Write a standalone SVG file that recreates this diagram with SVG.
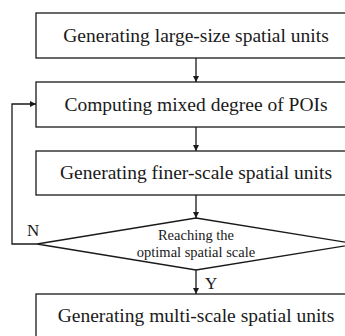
<svg xmlns="http://www.w3.org/2000/svg" width="345" height="336" viewBox="0 0 345 336">
  <style>
    .box { fill: #ffffff; stroke: #1a1a1a; stroke-width: 1.3; }
    .line { fill: none; stroke: #1a1a1a; stroke-width: 1.3; }
    .label { font-family: "Liberation Serif", "Times New Roman", serif; font-size: 19.5px; fill: #1a1a1a; text-anchor: middle; }
    .small { font-family: "Liberation Serif", "Times New Roman", serif; font-size: 14.5px; fill: #1a1a1a; text-anchor: middle; }
    .tag { font-family: "Liberation Serif", "Times New Roman", serif; font-size: 17px; fill: #1a1a1a; }
  </style>
  <defs>
    <marker id="arrow" viewBox="0 0 10 10" refX="10" refY="5" markerWidth="7" markerHeight="6" markerUnits="userSpaceOnUse" orient="auto">
      <path d="M0,0 L10,5 L0,10 z" fill="#1a1a1a"/>
    </marker>
  </defs>

  <rect width="345" height="336" fill="#ffffff"/>

  <g id="connectors">
    <line class="line" x1="196" y1="58" x2="196" y2="82" marker-end="url(#arrow)"/>
    <line class="line" x1="196" y1="127" x2="196" y2="151" marker-end="url(#arrow)"/>
    <line class="line" x1="196" y1="195" x2="196" y2="218" marker-end="url(#arrow)"/>
    <line class="line" x1="196" y1="270" x2="196" y2="294" marker-end="url(#arrow)"/>
    <polyline class="line" points="37,244 12,244 12,104 36,104" marker-end="url(#arrow)"/>
    <text class="tag" x="27" y="236">N</text>
    <text class="tag" x="205" y="289">Y</text>
  </g>

  <g id="node-large">
    <rect class="box" x="36" y="13" width="320" height="45"/>
    <text class="label" x="196" y="42">Generating large-size spatial units</text>
  </g>

  <g id="node-mixed">
    <rect class="box" x="36" y="82" width="320" height="45"/>
    <text class="label" x="196" y="111">Computing mixed degree of POIs</text>
  </g>

  <g id="node-finer">
    <rect class="box" x="36" y="151" width="320" height="44"/>
    <text class="label" x="196" y="179">Generating finer-scale spatial units</text>
  </g>

  <g id="node-decision">
    <polygon class="box" points="196,218 356,244 196,270 37,244"/>
    <text class="small" x="196" y="240">Reaching the</text>
    <text class="small" x="196" y="257">optimal spatial scale</text>
  </g>

  <g id="node-multi">
    <rect class="box" x="36" y="294" width="320" height="45"/>
    <text class="label" x="196" y="322">Generating multi-scale spatial units</text>
  </g>
</svg>
